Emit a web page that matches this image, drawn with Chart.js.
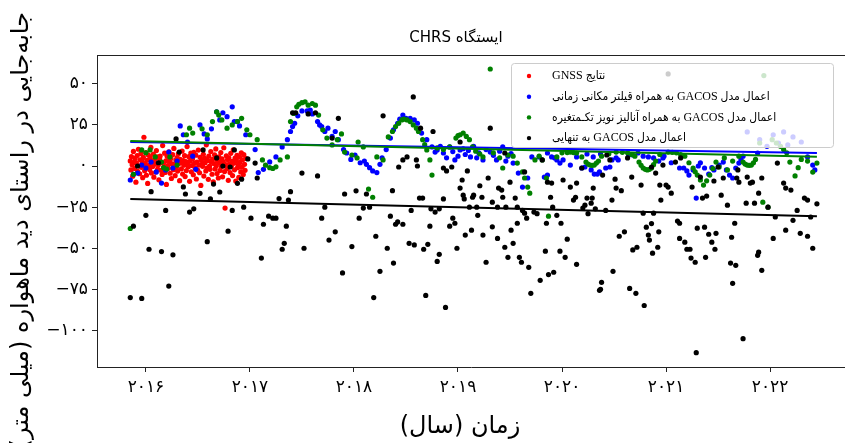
<!DOCTYPE html>
<html lang="fa">
<head>
<meta charset="utf-8">
<title>ایستگاه CHRS</title>
<script src="https://cdn.jsdelivr.net/npm/chart.js@4.4.1/dist/chart.umd.min.js"></script>
<style>
  html, body { margin: 0; padding: 0; background: #fff; }
  canvas { display: block; }
</style>
</head>
<body>
<canvas id="chrsChart" width="845" height="443"></canvas>
<script>
// texts
const chartTitle = 'ایستگاه CHRS';
const xAxisTitle = 'زمان (سال)';
const yAxisTitle = 'جابه‌جایی در راستای دید ماهواره (میلی متر)';
const seriesLabels = [
  'نتایج GNSS',
  'اعمال مدل GACOS به همراه قیلتر مکانی زمانی',
  'اعمال مدل GACOS به همراه آنالیز نویز تکـمتغیره',
  'اعمال مدل GACOS به تنهایی'
];
const seriesColors = ['#ff0000', '#0000ff', '#008000', '#000000'];

// ticks
const xTickValues = [2016, 2017, 2018, 2019, 2020, 2021, 2022];
const xTickLabels = ['۲۰۱۶', '۲۰۱۷', '۲۰۱۸', '۲۰۱۹', '۲۰۲۰', '۲۰۲۱', '۲۰۲۲'];
const yTickValues = [-100, -75, -50, -25, 0, 25, 50];
const yTickLabels = ['−۱۰۰', '−۷۵', '−۵۰', '−۲۵', '۰', '۲۵', '۵۰'];

// GNSS results [year, mm]
const gnssPoints = [
  [2015.850,3.1],[2015.856,-2.4],[2015.861,5.8],[2015.868,0.7],[2015.873,-6.2],[2015.880,8.9],[2015.885,2.2],[2015.892,-1.5],
  [2015.897,4.6],[2015.904,-9.8],[2015.909,1.9],[2015.916,6.4],[2015.921,-3.3],[2015.928,10.2],[2015.933,0.1],[2015.940,-4.7],
  [2015.945,3.8],[2015.952,7.5],[2015.957,-0.8],[2015.964,2.9],[2015.969,-7.1],[2015.976,5.2],[2015.981,17.5],[2015.988,-2.9],
  [2015.993,1.4],[2016.000,8.1],[2016.005,-5.6],[2016.012,3.5],[2016.017,-10.6],[2016.024,6.7],[2016.029,0.4],[2016.036,-2.1],
  [2016.041,4.9],[2016.048,11.3],[2016.053,-4.2],[2016.060,2.6],[2016.065,-0.3],[2016.072,7.2],[2016.077,-6.8],[2016.084,3.9],
  [2016.089,1.1],[2016.096,-3.7],[2016.101,9.4],[2016.108,5.5],[2016.113,-1.9],[2016.120,0.8],[2016.125,-8.4],[2016.132,4.2],
  [2016.137,6.1],[2016.144,-2.6],[2016.149,2.3],[2016.156,-5.1],[2016.161,12.4],[2016.168,1.7],[2016.173,-0.6],[2016.180,7.8],
  [2016.185,-3.9],[2016.192,3.2],[2016.197,-11.2],[2016.204,5.9],[2016.209,0.2],[2016.216,-1.4],[2016.221,8.6],[2016.228,2.8],
  [2016.233,-4.4],[2016.240,4.5],[2016.245,-7.6],[2016.252,1.3],[2016.257,6.9],[2016.264,-2.2],[2016.269,10.7],[2016.276,0.9],
  [2016.281,-5.9],[2016.288,3.6],[2016.293,-0.9],[2016.300,5.1],[2016.305,-3.1],[2016.312,7.4],[2016.317,1.6],[2016.324,-8.9],
  [2016.329,4.0],[2016.336,2.1],[2016.341,-1.7],[2016.348,9.1],[2016.353,-4.9],[2016.360,3.3],[2016.365,0.5],[2016.372,6.3],
  [2016.377,-6.4],[2016.384,2.7],[2016.389,-2.8],[2016.396,11.8],[2016.401,1.0],[2016.408,-0.4],[2016.413,5.7],[2016.420,-9.3],
  [2016.425,3.0],[2016.432,7.9],[2016.437,-3.5],[2016.444,0.3],[2016.449,4.4],[2016.456,-5.3],[2016.461,8.3],[2016.468,1.8],
  [2016.473,-1.1],[2016.480,6.6],[2016.485,-7.9],[2016.492,2.4],[2016.497,-2.5],[2016.504,9.7],[2016.509,0.6],[2016.516,-4.1],
  [2016.521,5.3],[2016.528,-11.8],[2016.533,3.7],[2016.540,1.2],[2016.545,-0.2],[2016.552,7.1],[2016.557,-6.1],[2016.564,4.7],
  [2016.569,2.0],[2016.576,-3.0],[2016.581,12.9],[2016.588,-1.3],[2016.593,3.4],[2016.600,-8.1],[2016.605,6.0],[2016.612,0.0],
  [2016.617,-2.0],[2016.624,8.8],[2016.629,2.5],[2016.636,-5.0],[2016.641,4.1],[2016.648,-9.6],[2016.653,1.5],[2016.660,6.8],
  [2016.665,-1.8],[2016.672,10.4],[2016.677,0.2],[2016.684,-4.6],[2016.689,3.1],[2016.696,-7.3],[2016.701,5.6],[2016.708,1.9],
  [2016.713,-2.7],[2016.720,8.2],[2016.725,-0.5],[2016.732,4.3],[2016.737,-6.6],[2016.744,2.6],[2016.749,11.1],[2016.756,-3.4],
  [2016.761,-25.6],[2016.768,0.8],[2016.773,6.2],[2016.780,-1.6],[2016.785,3.9],[2016.792,-8.7],[2016.797,5.0],[2016.804,1.3],
  [2016.809,-4.0],[2016.816,7.7],[2016.821,-0.1],[2016.828,2.9],[2016.833,-5.8],[2016.840,9.9],[2016.845,1.7],[2016.852,-2.3],
  [2016.857,4.8],[2016.864,-9.1],[2016.869,3.4],[2016.876,6.5],[2016.881,-1.0],[2016.888,0.9],[2016.893,-6.9],[2016.900,5.4],
  [2016.905,2.2],[2016.912,-3.6],[2016.917,8.0],[2016.924,-0.7],[2016.929,3.8],[2016.936,-5.2],[2016.941,6.9],[2016.948,1.0],
  [2016.953,-2.6],[2016.960,4.6]
];

// GACOS + spatio-temporal filter
const filteredPoints = [
  [2015.85,-8.5],[2015.88,-5],[2015.92,-4.3],[2015.96,0.6],[2016.00,-1.2],[2016.05,2.4],[2016.10,-3.6],[2016.15,-10.4],
  [2016.19,-2.4],[2016.22,8.5],[2016.26,-1.2],[2016.30,3],[2016.33,24.4],[2016.36,19],[2016.40,14.6],[2016.45,6],
  [2016.48,-2],[2016.52,25],[2016.56,19.5],[2016.59,16.5],[2016.63,22.6],[2016.68,33],[2016.71,28],[2016.74,32.4],
  [2016.78,30],[2016.83,36],[2016.85,27],[2016.88,27],[2016.90,24.4],[2016.96,19],[2017.05,10],[2017.08,-4],
  [2017.13,-2],[2017.19,2.5],[2017.25,5.5],[2017.31,11.6],[2017.36,16],[2017.39,21],[2017.41,24],[2017.43,26],
  [2017.46,30.5],[2017.50,33.5],[2017.55,33.5],[2017.58,34],[2017.60,31.7],[2017.65,27],[2017.67,25],[2017.69,24],
  [2017.72,21],[2017.75,23],[2017.79,18],[2017.82,21],[2017.85,16],[2017.90,10],[2017.93,7.9],[2017.97,4],
  [2018.01,6.7],[2018.06,2],[2018.10,3],[2018.12,1],[2018.15,-1],[2018.18,-3],[2018.22,-4],[2018.25,1],
  [2018.27,5],[2018.31,10],[2018.35,17],[2018.38,22],[2018.42,26],[2018.44,28.5],[2018.47,31],[2018.50,29],
  [2018.54,29],[2018.58,28],[2018.61,26],[2018.65,20],[2018.70,16],[2018.75,11.6],[2018.78,8.5],[2018.80,9.8],
  [2018.83,12],[2018.86,7.9],[2018.89,5],[2018.92,11.6],[2018.95,8.8],[2018.97,3.7],[2019.00,6],[2019.02,9.8],
  [2019.05,10.5],[2019.07,7],[2019.10,9.5],[2019.12,5.5],[2019.15,12],[2019.18,5],[2019.20,8],[2019.24,3.7],
  [2019.27,10],[2019.31,8.5],[2019.34,6.5],[2019.37,3.7],[2019.40,9],[2019.43,11.6],[2019.46,3],[2019.48,6],
  [2019.51,7.5],[2019.53,1.8],[2019.58,-4.3],[2019.62,-12.8],[2019.67,-7.3],[2019.71,5.5],[2019.78,5.5],[2019.83,-6.7],
  [2019.86,-5.5],[2019.86,7.9],[2019.90,5.5],[2019.93,4.9],[2019.95,3.7],[2019.98,1.8],[2020.01,3.7],[2020.08,0.6],
  [2020.14,5.5],[2020.19,-1.2],[2020.22,-0.6],[2020.24,7.3],[2020.28,-2.4],[2020.30,5.5],[2020.31,-4.9],[2020.34,-4.9],
  [2020.36,-3.6],[2020.37,7.3],[2020.42,-1.2],[2020.46,-0.6],[2020.48,3.7],[2020.52,5],[2020.54,3.7],[2020.64,6.7],
  [2020.68,6.7],[2020.73,7.9],[2020.78,6],[2020.83,5.5],[2020.88,4.9],[2020.93,3],[2020.97,4.9],[2020.98,6],
  [2021.05,2],[2021.13,-1.2],[2021.17,-1.2],[2021.20,-3],[2021.22,-5.5],[2021.26,-2.4],[2021.29,-19.5],[2021.31,0],
  [2021.33,2],[2021.37,-1.2],[2021.41,-4.9],[2021.44,-1],[2021.46,-2.4],[2021.51,0.6],[2021.55,2.4],[2021.58,-2.4],
  [2021.61,-5.5],[2021.64,-7.3],[2021.67,-1.2],[2021.70,1.8],[2021.72,4],[2021.74,6],[2021.78,20.7],[2021.88,7.9],
  [2021.90,16],[2021.97,12],[2022.03,19],[2022.08,14],[2022.13,20.7],[2022.17,12.8],[2022.22,17.7],[2022.30,14.6],
  [2022.36,5.5],[2022.41,0.6],[2022.43,-2.4]
];

// GACOS + univariate noise analysis
const noisePoints = [
  [2015.85,-38],[2015.88,-5],[2015.96,9.8],[2016.00,8],[2016.04,9.8],[2016.09,5.5],[2016.15,2.4],[2016.17,-1],
  [2016.20,-1.8],[2016.23,5.5],[2016.30,0.6],[2016.39,19],[2016.42,23],[2016.45,20],[2016.54,22.6],[2016.59,19],
  [2016.64,27],[2016.68,33],[2016.70,31],[2016.73,28],[2016.78,23],[2016.83,25],[2016.88,27],[2016.92,29],
  [2016.97,22],[2017.00,19],[2017.07,16],[2017.12,3.7],[2017.15,0.5],[2017.19,-1],[2017.22,-1.5],[2017.25,-0.5],
  [2017.29,3.7],[2017.36,5.5],[2017.39,27],[2017.42,32],[2017.45,36],[2017.47,37.5],[2017.50,38.5],[2017.53,39],
  [2017.56,37],[2017.60,38],[2017.63,37],[2017.66,31],[2017.70,22],[2017.74,17],[2017.79,12.8],[2017.84,16],
  [2017.88,19.5],[2017.91,8.5],[2017.98,6.7],[2018.03,4.9],[2018.04,14.6],[2018.09,11.6],[2018.14,-14],[2018.18,-19],
  [2018.22,5.5],[2018.28,3.7],[2018.33,17.7],[2018.37,21],[2018.40,24],[2018.43,26],[2018.46,28],[2018.48,28.5],
  [2018.51,28],[2018.54,27],[2018.57,25],[2018.60,23],[2018.62,21],[2018.66,16],[2018.68,13],[2018.70,9.8],
  [2018.73,3.7],[2018.75,-5.5],[2018.80,11],[2018.86,10],[2018.92,11.6],[2018.98,17],[2019.00,18.5],[2019.02,19],
  [2019.05,20],[2019.08,18],[2019.11,16],[2019.14,11.6],[2019.17,9],[2019.21,7.3],[2019.24,5.5],[2019.31,59],
  [2019.34,8],[2019.40,5],[2019.43,-1.2],[2019.48,6.7],[2019.53,6],[2019.57,1.8],[2019.62,-3.6],[2019.64,-7.3],
  [2019.67,-12.8],[2019.69,-16.5],[2019.74,3.7],[2019.78,6],[2019.81,3.7],[2019.85,-7.3],[2019.87,-30.5],[2019.95,5.5],
  [2020.00,8],[2020.05,8.2],[2020.08,8.5],[2020.11,8.2],[2020.14,7.9],[2020.19,5.5],[2020.23,2.4],[2020.25,1.2],
  [2020.27,0.6],[2020.29,0.4],[2020.31,0.6],[2020.33,1.8],[2020.35,3],[2020.38,6],[2020.45,7.5],[2020.52,8.5],
  [2020.58,8.3],[2020.63,8],[2020.67,7],[2020.70,6],[2020.74,2.4],[2020.76,0.4],[2020.78,-1.2],[2020.80,-2],
  [2020.82,-2.4],[2020.84,-2],[2020.86,-1.2],[2020.88,0.8],[2020.90,3],[2020.94,7],[2021.02,8.5],[2021.06,8.3],
  [2021.10,8],[2021.14,7],[2021.18,6],[2021.22,2],[2021.26,-1.2],[2021.28,-3.5],[2021.30,-5.5],[2021.33,-8.5],
  [2021.36,-11.6],[2021.39,-9],[2021.42,-5.5],[2021.45,-1.5],[2021.48,2.4],[2021.51,-0.6],[2021.56,4.9],[2021.59,-2.4],
  [2021.64,3],[2021.70,6],[2021.74,2.4],[2021.76,1.2],[2021.78,0.6],[2021.80,0.4],[2021.82,0.6],[2021.84,2],
  [2021.86,4],[2021.90,14],[2021.93,-22],[2021.94,55],[2021.98,-25],[2022.02,16],[2022.06,14],[2022.10,12],
  [2022.13,10],[2022.16,8],[2022.19,2.4],[2022.24,-6],[2022.27,-1],[2022.30,4],[2022.36,3],[2022.41,-3.7],
  [2022.45,1.8]
];

// GACOS only
const gacosPoints = [
  [2015.85,-80],[2015.88,-36.6],[2015.92,0],[2015.96,-80.5],[2016.00,-30],[2016.03,-50.6],[2016.05,-15.6],[2016.12,2],
  [2016.15,-52],[2016.19,-27],[2016.22,-73],[2016.26,-54],[2016.29,16.5],[2016.32,8.5],[2016.36,-12.7],[2016.38,-17],
  [2016.42,-28],[2016.46,-26],[2016.52,-16.6],[2016.55,9.8],[2016.59,-46],[2016.62,-20],[2016.65,-11],[2016.68,4.9],
  [2016.71,-15.8],[2016.74,0],[2016.79,-39.6],[2016.81,-0.6],[2016.83,-27],[2016.85,9.8],[2016.88,-10.5],[2016.92,-8],
  [2016.94,-25],[2016.98,4.3],[2017.01,-31.7],[2017.05,1.8],[2017.07,-7.3],[2017.11,-56],[2017.13,-35.4],[2017.18,-30.5],
  [2017.22,-31.7],[2017.25,-31.7],[2017.28,-19.8],[2017.31,-50.6],[2017.33,-47],[2017.35,-36.6],[2017.37,-20.7],[2017.39,-15.6],
  [2017.41,32.4],[2017.44,32.4],[2017.50,-4.3],[2017.52,-50],[2017.56,31.7],[2017.63,32.4],[2017.65,-6],[2017.69,-31.7],
  [2017.72,-25],[2017.76,-45],[2017.79,17],[2017.82,-40],[2017.85,29],[2017.89,-65],[2017.91,-17],[2017.98,-49],
  [2018.02,-15.1],[2018.05,-31.7],[2018.09,-25.6],[2018.12,-17],[2018.15,-25],[2018.19,-80],[2018.21,-42.7],[2018.25,-64],
  [2018.28,30.5],[2018.32,-50],[2018.35,-30.5],[2018.37,-15],[2018.38,-59],[2018.40,-35.4],[2018.42,-34],[2018.43,-0.6],
  [2018.47,-35.4],[2018.47,3.7],[2018.51,5.5],[2018.53,-47],[2018.55,-27],[2018.57,42],[2018.58,-48],[2018.60,3.7],
  [2018.61,0],[2018.63,-19.5],[2018.64,23],[2018.66,-19.5],[2018.67,-50.6],[2018.69,-78.7],[2018.71,-47.6],[2018.73,-36.6],
  [2018.74,-26],[2018.76,21],[2018.78,-28],[2018.80,-58],[2018.82,-53.7],[2018.82,-26],[2018.86,-1.2],[2018.86,-20],
  [2018.88,-86],[2018.89,-3],[2018.92,-36.6],[2018.94,-0.6],[2018.95,-31.7],[2018.97,-34.8],[2018.99,-50],[2019.02,14.6],
  [2019.02,-13.4],[2019.04,-8.5],[2019.05,-17.7],[2019.06,-20],[2019.07,-42],[2019.09,-3],[2019.11,-25],[2019.13,-39],
  [2019.14,-19],[2019.15,-17.7],[2019.18,-25],[2019.19,-30],[2019.21,-12],[2019.23,-19],[2019.24,-42],[2019.27,-58.5],
  [2019.29,-7.3],[2019.31,23],[2019.33,-22],[2019.33,-37],[2019.38,-44],[2019.38,-25],[2019.39,-13.4],[2019.42,-14.6],
  [2019.43,-19],[2019.45,-49.4],[2019.45,7.9],[2019.46,-25],[2019.48,-55.5],[2019.50,-9.8],[2019.51,-39],[2019.53,-47],
  [2019.55,-19.5],[2019.57,-34.8],[2019.57,-25],[2019.59,-55.5],[2019.61,-58.5],[2019.62,-27],[2019.64,-28.7],[2019.64,-3.6],
  [2019.66,-31.7],[2019.68,-61.6],[2019.70,-77.4],[2019.73,-28],[2019.76,-29],[2019.79,-69.5],[2019.81,3.7],[2019.84,-51.8],
  [2019.85,-34.8],[2019.86,-9.8],[2019.87,-66],[2019.89,-19],[2019.90,-10.4],[2019.91,-25],[2019.92,-64.6],[2019.95,-30],
  [2019.98,-51.8],[2019.99,-34.8],[2020.01,-8.5],[2020.03,-55.5],[2020.05,-44.5],[2020.08,-12.8],[2020.11,-20.7],[2020.13,-19],
  [2020.14,-59.8],[2020.14,-10.4],[2020.19,-1.2],[2020.20,-25.6],[2020.22,-23.8],[2020.24,-19.5],[2020.25,-29],[2020.28,-22.6],
  [2020.29,-19.5],[2020.30,-13.4],[2020.32,-26],[2020.36,-75.6],[2020.37,-75],[2020.38,-70.7],[2020.39,-5.5],[2020.42,-27],
  [2020.43,6.7],[2020.46,3.7],[2020.48,-20.7],[2020.49,-64],[2020.51,-8],[2020.52,-13.4],[2020.55,-42.7],[2020.57,-15],
  [2020.60,-40],[2020.63,4.9],[2020.65,-74.4],[2020.67,-6.7],[2020.68,-51],[2020.71,-77.4],[2020.72,-49.4],[2020.76,-11.6],
  [2020.78,-28.7],[2020.79,-84.8],[2020.81,-37.2],[2020.83,-42],[2020.84,-45],[2020.86,-35],[2020.86,-0.6],[2020.87,-53],
  [2020.88,-28.7],[2020.90,-4.3],[2020.92,-49.4],[2020.93,-40],[2020.94,-11.6],[2020.95,-20.7],[2020.97,0.6],[2021.00,-11.6],
  [2021.02,-12.8],[2021.02,56],[2021.05,-16.5],[2021.09,2.4],[2021.11,-33.5],[2021.13,-44],[2021.13,-34.8],[2021.14,4.9],
  [2021.18,-46.3],[2021.20,-50.6],[2021.23,-50.6],[2021.24,-56],[2021.25,-12.8],[2021.28,-58.5],[2021.29,-113.5],[2021.30,-37.8],
  [2021.33,-6.7],[2021.35,-19.5],[2021.37,-37.2],[2021.38,-55.5],[2021.39,-18.3],[2021.41,-41.5],[2021.44,-46.3],[2021.46,-9.1],
  [2021.47,-50.6],[2021.48,-40.9],[2021.50,-0.6],[2021.53,-17.7],[2021.55,-7.3],[2021.59,-23.8],[2021.62,-59],[2021.63,-43.3],
  [2021.64,-71.3],[2021.66,-34.8],[2021.67,-60.4],[2021.68,-7.3],[2021.69,-2.4],[2021.70,-9.8],[2021.74,-105],[2021.77,-22.6],
  [2021.78,-6.7],[2021.81,-10.4],[2021.83,-9.8],[2021.85,-22.6],[2021.88,-54.3],[2021.89,-16.5],[2021.89,-52.4],[2021.92,-7.3],
  [2021.92,-63.4],[2021.98,-25],[2022.03,-44],[2022.05,-31],[2022.07,1.8],[2022.13,-10.4],[2022.15,-39],[2022.15,-13.4],
  [2022.20,-14.6],[2022.22,-33],[2022.26,-27],[2022.29,-40.9],[2022.33,-19.5],[2022.36,-42.7],[2022.36,-20.7],[2022.39,-31],
  [2022.41,-50],[2022.45,-23]
];

// fitted trend lines, end points [year, mm]
const filteredTrend = [[2015.85,14.6],[2022.45,7.9]];
const noiseTrend = [[2015.85,15.2],[2022.45,5.6]];
const gacosTrend = [[2015.85,-20.1],[2022.45,-30.5]];

const toXY = (pts) => pts.map(([x, y]) => ({ x, y }));

function scatterSet(label, color, pts, order) {
  return {
    label,
    data: toXY(pts),
    backgroundColor: color,
    borderColor: color,
    pointRadius: 2.6,
    pointBorderWidth: 0,
    pointHoverRadius: 2.6,
    order
  };
}

function trendSet(color, pts, order) {
  return {
    data: toXY(pts),
    showLine: true,
    borderColor: color,
    borderWidth: 2,
    pointRadius: 0,
    order
  };
}

// top spine, legend box and the persian titles
const persianLayout = {
  id: 'persianLayout',
  afterDatasetsDraw(chart) {
    const { ctx, chartArea } = chart;
    ctx.save();
    ctx.strokeStyle = '#222';
    ctx.lineWidth = 1;
    ctx.beginPath();
    ctx.moveTo(chartArea.left, chartArea.top + 0.5);
    ctx.lineTo(chart.width, chartArea.top + 0.5);
    ctx.stroke();

    // legend
    ctx.beginPath();
    ctx.roundRect(511.5, 63.5, 322, 84, 3);
    ctx.fillStyle = 'rgba(255,255,255,0.8)';
    ctx.fill();
    ctx.strokeStyle = '#cccccc';
    ctx.stroke();

    ctx.direction = 'rtl';
    ctx.textAlign = 'left';
    ctx.textBaseline = 'middle';
    ctx.font = '12px "Liberation Serif", "DejaVu Sans"';
    if ('fontStretch' in ctx) ctx.fontStretch = 'condensed';
    seriesLabels.forEach((label, i) => {
      const y = 76 + i * 20.7;
      ctx.fillStyle = seriesColors[i];
      ctx.beginPath();
      ctx.arc(529, y, 2.2, 0, Math.PI * 2);
      ctx.fill();
      ctx.fillStyle = '#000';
      ctx.fillText(label, 552, y);
    });
    ctx.restore();
  },
  afterDraw(chart) {
    const { ctx } = chart;
    ctx.save();
    ctx.direction = 'rtl';
    ctx.fillStyle = '#000';
    ctx.textBaseline = 'middle';

    ctx.textAlign = 'center';
    ctx.font = '15px "DejaVu Sans"';
    ctx.fillText(chartTitle, 456, 38);

    ctx.font = '24px "DejaVu Sans"';
    ctx.fillText(xAxisTitle, 460, 427);

    ctx.translate(22, 12);
    ctx.rotate(-Math.PI / 2);
    ctx.textAlign = 'right';
    ctx.fillText(yAxisTitle, 0, 0);
    ctx.restore();
  }
};

const tickFont = { family: 'DejaVu Sans', size: 17 };

new Chart(document.getElementById('chrsChart'), {
  type: 'scatter',
  data: {
    datasets: [
      scatterSet(seriesLabels[0], seriesColors[0], gnssPoints, 6),
      scatterSet(seriesLabels[1], seriesColors[1], filteredPoints, 5),
      scatterSet(seriesLabels[2], seriesColors[2], noisePoints, 4),
      scatterSet(seriesLabels[3], seriesColors[3], gacosPoints, 3),
      trendSet(seriesColors[1], filteredTrend, 2),
      trendSet(seriesColors[2], noiseTrend, 1),
      trendSet(seriesColors[3], gacosTrend, 0)
    ]
  },
  options: {
    responsive: false,
    animation: false,
    devicePixelRatio: 1,
    events: [],
    layout: { autoPadding: false, padding: { top: 55, left: 0, right: 0, bottom: 0 } },
    plugins: {
      legend: { display: false },
      title: { display: false },
      tooltip: { enabled: false }
    },
    scales: {
      x: {
        type: 'linear',
        min: 2015.53,
        max: 2022.72,
        afterBuildTicks: (axis) => { axis.ticks = xTickValues.map(v => ({ value: v })); },
        afterFit: (axis) => { axis.height = 76; },
        grid: { drawOnChartArea: false, drawTicks: true, tickLength: 5, color: '#222' },
        border: { color: '#222', width: 1 },
        ticks: {
          font: tickFont,
          color: '#000',
          padding: 5,
          maxRotation: 0,
          autoSkip: false,
          callback: (v) => xTickLabels[xTickValues.indexOf(v)]
        }
      },
      y: {
        min: -122.2,
        max: 67.5,
        afterBuildTicks: (axis) => { axis.ticks = yTickValues.map(v => ({ value: v })); },
        afterFit: (axis) => { axis.width = 97; },
        grid: { drawOnChartArea: false, drawTicks: true, tickLength: 5, color: '#222' },
        border: { color: '#222', width: 1 },
        ticks: {
          font: tickFont,
          color: '#000',
          padding: 4,
          autoSkip: false,
          callback: (v) => yTickLabels[yTickValues.indexOf(v)]
        }
      }
    }
  },
  plugins: [persianLayout]
});
</script>
</body>
</html>
